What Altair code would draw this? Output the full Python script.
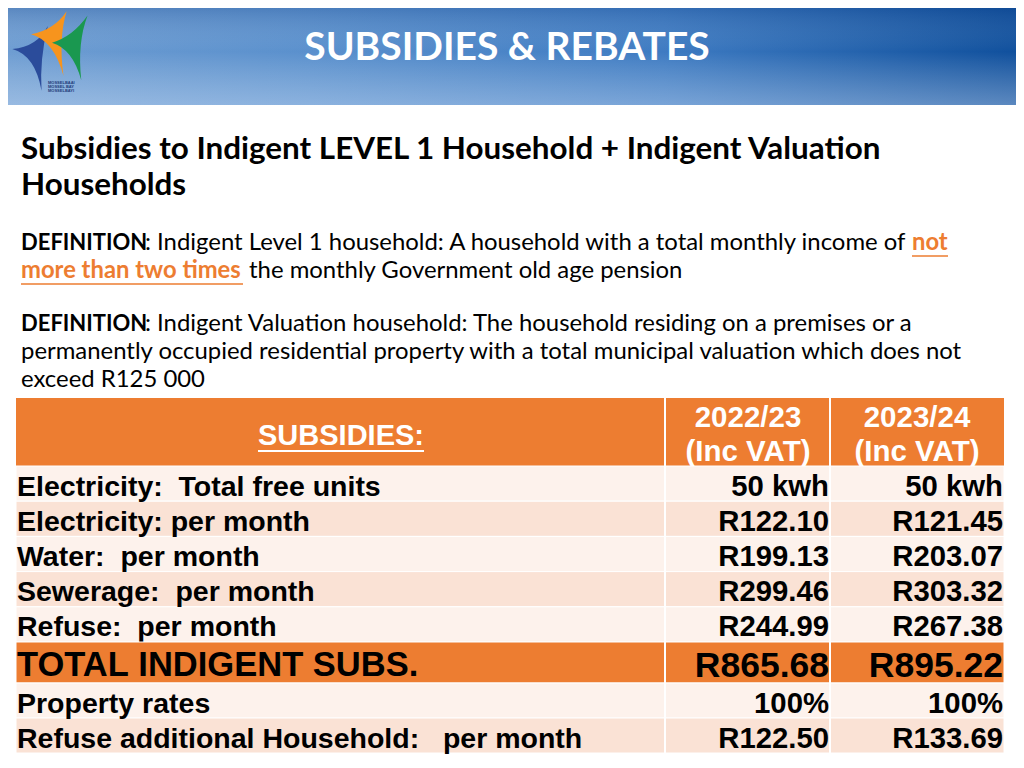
import altair as alt
import pandas as pd

# ---------------- data ----------------
row_labels = [
    "Electricity:  Total free units",
    "Electricity: per month",
    "Water:  per month",
    "Sewerage:  per month",
    "Refuse:  per month",
    "TOTAL INDIGENT SUBS.",
    "Property rates",
    "Refuse additional Household:   per month",
]
values_2022_23 = ["50 kwh", "R122.10", "R199.13", "R299.46", "R244.99", "R865.68", "100%", "R122.50"]
values_2023_24 = ["50 kwh", "R121.45", "R203.07", "R303.32", "R267.38", "R895.22", "100%", "R133.69"]
col_headers = [["2022/23", "(Inc VAT)"], ["2023/24", "(Inc VAT)"]]

page_title = "SUBSIDIES & REBATES"
heading = ["Subsidies to Indigent LEVEL 1 Household + Indigent Valuation", "Households"]

# ---------------- style ----------------
ORANGE = "#ED7D31"
LIGHT = "#FDF2EC"
MED = "#FAE2D5"
ARIAL = "Liberation Sans"
BODY = "Lato"


def keep_spaces(s):
    return s.replace(" ", "\u00a0")


df = pd.DataFrame({"label": [keep_spaces(s) for s in row_labels],
                   "v1": values_2022_23, "v2": values_2023_24})
df["idx"] = range(len(df))
df["fill"] = [ORANGE if i == 5 else (LIGHT if i % 2 == 0 else MED) for i in df["idx"]]
df["group"] = ["a"] * 5 + ["t"] + ["c"] * 2


def one(s):
    return pd.DataFrame({"t": [s]})


def txt(s, x, y, size, weight="normal", color="black", align="left", font=BODY):
    return alt.Chart(one(s)).mark_text(
        align=align, baseline="middle", fontSize=size, fontWeight=weight,
        color=color, font=font
    ).encode(x=alt.value(x), y=alt.value(y), text="t:N")


def rule(x, x2, y, y2, color, w):
    return alt.Chart(one("r")).mark_rule(color=color, strokeWidth=w).encode(
        x=alt.value(x), x2=alt.value(x2), y=alt.value(y), y2=alt.value(y2))


layers = []

# banner
grad_h = alt.LinearGradient(
    gradient="linear", x1=0, x2=1, y1=0, y2=0,
    stops=[alt.GradientStop(color="#6E9DD2", offset=0),
           alt.GradientStop(color="#5A90CD", offset=0.3),
           alt.GradientStop(color="#3E7BC2", offset=0.65),
           alt.GradientStop(color="#10509D", offset=1)])
grad_v = alt.LinearGradient(
    gradient="linear", x1=0, x2=0, y1=0, y2=1,
    stops=[alt.GradientStop(color="rgba(10,50,120,0.2)", offset=0),
           alt.GradientStop(color="rgba(255,255,255,0)", offset=0.45),
           alt.GradientStop(color="rgba(230,240,255,0.35)", offset=1)])
layers.append(alt.Chart(one("b")).mark_rect(color=grad_h).encode(
    x=alt.value(0), x2=alt.value(1008), y=alt.value(0), y2=alt.value(97)))
layers.append(alt.Chart(one("b")).mark_rect(color=grad_v).encode(
    x=alt.value(0), x2=alt.value(1008), y=alt.value(0), y2=alt.value(97)))

# logo sails
sails = [
    ("#2B4C9B", "M-0.1,-0.6 Q-0.35,-0.1 -0.95,-0.05 Q-0.4,0.1 -0.25,0.95 Q-0.3,0.2 -0.1,-0.6 Z"),
    ("#F7941D", "M0.35,-0.95 Q0.05,-0.5 -0.5,-0.4 Q0.05,-0.25 0.275,0.6 Q0.15,-0.3 0.35,-0.95 Z"),
    ("#1A9850", "M0.85,-0.85 Q0.5,-0.35 0.0,-0.2 Q0.5,-0.05 0.7,0.7 Q0.6,-0.2 0.85,-0.85 Z"),
]
for col, path in sails:
    layers.append(alt.Chart(one("s")).mark_point(
        shape=path, filled=True, size=7000, color=col, opacity=1, strokeWidth=0
    ).encode(x=alt.value(44), y=alt.value(43)))
for i, s in enumerate(["MOSSELBAAI", "MOSSEL BAY", "MOSSELBAYI"]):
    layers.append(txt(s, 40, 75 + i * 4, 4, "bold", "#1F3C7A", "left", ARIAL))

layers.append(txt(page_title, 499, 40, 39, "bold", "white", "center"))

# heading
layers.append(txt(heading[0], 13, 142, 31.4, "bold"))
layers.append(txt(heading[1], 13, 178, 31.4, "bold"))

# definition 1
RS = 23.9
BS = 23.8
layers.append(txt("DEFINITION", 13, 235, 22, "bold"))
layers.append(txt(": Indigent Level 1 household: A household with a total monthly income of", 137, 235, RS))
layers.append(txt("not", 904, 235, BS, "bold", ORANGE))
layers.append(rule(904, 940, 248, 248, ORANGE, 1.5))
layers.append(txt("more than two times", 13, 263, BS, "bold", ORANGE))
layers.append(rule(13, 235, 276, 276, ORANGE, 1.5))
layers.append(txt("the monthly Government old age pension", 241, 263, RS))

# definition 2
layers.append(txt("DEFINITION", 13, 316, 22, "bold"))
layers.append(txt(": Indigent Valuation household: The household residing on a premises or a", 137, 316, RS))
layers.append(txt("permanently occupied residential property with a total municipal valuation which does not", 13, 344, RS))
layers.append(txt("exceed R125 000", 13, 372, RS))

# table header
layers.append(alt.Chart(one("h")).mark_rect(color=ORANGE).encode(
    x=alt.value(8), x2=alt.value(996), y=alt.value(390), y2=alt.value(458)))
layers.append(txt("SUBSIDIES:", 333, 428, 29, "bold", "white", "center", ARIAL))
layers.append(rule(250, 416, 443, 443, "white", 2))
for (l1, l2), cx in zip(col_headers, [740, 909]):
    layers.append(txt(l1, cx, 410, 29.5, "bold", "white", "center", ARIAL))
    layers.append(txt(l2, cx, 444, 29.5, "bold", "white", "center", ARIAL))

# table body: three bands of rows
groups = [("a", 458, 634, 28.5, 29.3), ("t", 634, 675, 34.5, 35.5), ("c", 675, 745, 28.5, 29.3)]
for g, top, bot, fs, vs in groups:
    sub = df[df["group"] == g]
    yenc = alt.Y("label:N", axis=None,
                 scale=alt.Scale(domain=list(sub["label"]), range=[top, bot],
                                 paddingInner=0, paddingOuter=0))
    base = alt.Chart(sub).encode(y=yenc)
    layers.append(base.mark_rect(stroke="white", strokeWidth=1).encode(
        x=alt.value(8), x2=alt.value(996), fill=alt.Fill("fill:N", scale=None)))
    layers.append(base.mark_text(align="left", baseline="middle", font=ARIAL, dy=3,
                                 fontSize=fs, fontWeight="bold", color="black").encode(
        x=alt.value(9), text="label:N"))
    layers.append(base.mark_text(align="right", baseline="middle", font=ARIAL, dy=3,
                                 fontSize=vs, fontWeight="bold", color="black").encode(
        x=alt.value(821), text="v1:N"))
    layers.append(base.mark_text(align="right", baseline="middle", font=ARIAL, dy=3,
                                 fontSize=vs, fontWeight="bold", color="black").encode(
        x=alt.value(995), text="v2:N"))

# column dividers
layers.append(rule(657, 657, 390, 745, "white", 2))
layers.append(rule(822, 822, 390, 745, "white", 2))

chart = alt.layer(*layers).resolve_scale(y="independent").properties(
    width=1008, height=752, padding=0, autosize=alt.AutoSizeParams(type="none"),
    background="white"
).configure_view(stroke=None)

chart.save("out.html", embed_options={"renderer": "svg", "actions": False})
